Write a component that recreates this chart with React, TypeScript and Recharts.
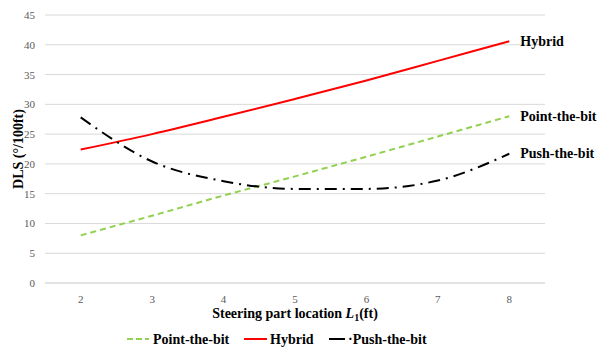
import React from "react";
import { LineChart, Line, XAxis, YAxis, CartesianGrid, Label } from "recharts";

const locations = [2, 3, 4, 5, 6, 7, 8];
const pointTheBit = [8.0, 11.3, 14.7, 17.9, 21.2, 24.6, 28.0];
const hybrid = [22.4, 25.0, 27.9, 30.9, 34.0, 37.3, 40.6];
const pushTheBit = [27.8, 20.4, 17.1, 15.8, 15.8, 17.2, 21.7];
const yTicks = [0, 5, 10, 15, 20, 25, 30, 35, 40, 45];

const data = locations.map((x, i) => ({
  x,
  point: pointTheBit[i],
  hybrid: hybrid[i],
  push: pushTheBit[i],
}));

const FONT = "Liberation Serif, Times New Roman, serif";
const txt = (size: number, bold = false, color = "#000") => ({
  fontFamily: FONT,
  fontSize: size,
  fontWeight: bold ? 700 : 400,
  fill: color,
});

const endLabel = (text: string) => (props: any) => {
  const { x, y, index } = props;
  if (index !== locations.length - 1) return null;
  return (
    <text x={x + 11} y={y} dominantBaseline="central" style={txt(14, true)}>
      {text}
    </text>
  );
};

const XTick = (props: any) => {
  const { x, y, payload } = props;
  return (
    <text x={x} y={y + 8} textAnchor="middle" style={txt(11, false, "#595959")}>
      {payload.value}
    </text>
  );
};

const YTick = (props: any) => {
  const { x, y, payload } = props;
  return (
    <text x={x} y={y} textAnchor="end" dominantBaseline="central" style={txt(11, false, "#595959")}>
      {payload.value}
    </text>
  );
};

export default function App() {
  return (
    <div style={{ position: "absolute", left: 0, top: 0, width: 597, height: 352, background: "#fff", fontFamily: FONT }}>
      <LineChart
        width={597}
        height={352}
        data={data}
        margin={{ top: 15, right: 52, bottom: 0, left: 0 }}
      >
        <CartesianGrid vertical={false} stroke="#d9d9d9" strokeWidth={1} />
        <XAxis
          dataKey="x"
          type="number"
          domain={[1.5, 8.5]}
          ticks={locations}
          axisLine={{ stroke: "#d9d9d9" }}
          tickLine={false}
          tick={<XTick />}
          tickMargin={6}
          height={69}
        >
          <Label
            content={(p: any) => {
              const vb = p.viewBox;
              return (
                <text x={vb.x + vb.width / 2} y={vb.y + 35} textAnchor="middle" style={txt(14, true)}>
                  Steering part location <tspan fontStyle="italic">L</tspan>
                  <tspan fontSize={10} dy={3}>1</tspan>
                  <tspan dy={-3}>(ft)</tspan>
                </text>
              );
            }}
          />
        </XAxis>
        <YAxis
          type="number"
          domain={[0, 45]}
          ticks={yTicks}
          axisLine={false}
          tickLine={false}
          tick={<YTick />}
          width={45}
          tickMargin={4}
        >
          <Label
            content={(p: any) => {
              const vb = p.viewBox;
              const cy = vb.y + vb.height / 2;
              return (
                <text
                  x={18}
                  y={cy}
                  transform={`rotate(-90 18 ${cy})`}
                  textAnchor="middle"
                  dominantBaseline="central"
                  style={txt(14, true)}
                >
                  DLS (°/100ft)
                </text>
              );
            }}
          />
        </YAxis>
        <Line
          dataKey="point"
          stroke="#92D050"
          strokeWidth={2}
          strokeDasharray="6 4"
          dot={false}
          isAnimationActive={false}
          label={endLabel("Point-the-bit")}
        />
        <Line
          dataKey="hybrid"
          type="monotone"
          stroke="#FF0000"
          strokeWidth={2}
          dot={false}
          isAnimationActive={false}
          label={endLabel("Hybrid")}
        />
        <Line
          dataKey="push"
          type="monotone"
          stroke="#000000"
          strokeWidth={2}
          strokeDasharray="12 6 2 6"
          dot={false}
          isAnimationActive={false}
          label={endLabel("Push-the-bit")}
        />
      </LineChart>
      <div style={{ position: "absolute", left: 0, top: 330, width: 597, height: 18 }}>
        <svg width={597} height={18} style={{ position: "absolute", left: 0, top: 0 }}>
          <line x1={127} x2={149} y1={9} y2={9} stroke="#92D050" strokeWidth={2} strokeDasharray="6 3" />
          <text x={153} y={9} dominantBaseline="central" style={txt(14, true)}>Point-the-bit</text>
          <line x1={244} x2={267} y1={9} y2={9} stroke="#FF0000" strokeWidth={2} />
          <text x={270} y={9} dominantBaseline="central" style={txt(14, true)}>Hybrid</text>
          <line x1={329} x2={345} y1={9} y2={9} stroke="#000" strokeWidth={2} />
          <text x={348} y={9} dominantBaseline="central" style={txt(14, true)}>·Push-the-bit</text>
        </svg>
      </div>
    </div>
  );
}
